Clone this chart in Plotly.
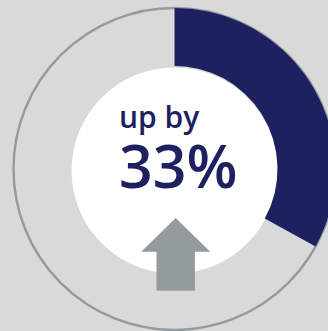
import numpy as np
import plotly.graph_objects as go

# ---- data ----
labels = ["up by", "33%"]
percent_change = [33]          # share of the ring filled
ring_radii = [103, 161]       # inner / outer radius of the ring (px units)

NAVY = "#1e2160"
GREY = "#949b9e"
BG = "#d9d9d9"

pct = percent_change[0] / 100.0
r_in, r_out = ring_radii

# wedge built from the value (clockwise from 12 o'clock)
t = np.linspace(0, 2 * np.pi * pct, 200)
wx = np.concatenate([r_out * np.sin(t), r_in * np.sin(t[::-1])])
wy = np.concatenate([r_out * np.cos(t), r_in * np.cos(t[::-1])])

fig = go.Figure()
fig.add_trace(go.Scatter(x=wx, y=wy, mode="lines", fill="toself",
                         fillcolor=NAVY, line=dict(width=0, color=NAVY),
                         hoverinfo="skip"))

# arrow icon
ac, tip, hb, bot, hw, sw = 1.2, -49, -82.7, -121.7, 34.5, 19.2
ax = [ac, ac + hw, ac + sw, ac + sw, ac - sw, ac - sw, ac - hw, ac]
ay = [tip, hb, hb, bot, bot, hb, hb, tip]
fig.add_trace(go.Scatter(x=ax, y=ay, mode="lines", fill="toself",
                         fillcolor=GREY, line=dict(width=0, color=GREY),
                         hoverinfo="skip"))

fig.add_shape(type="circle", x0=-r_out, x1=r_out, y0=-r_out, y1=r_out,
              line=dict(color=GREY, width=2.4), layer="below")
fig.add_shape(type="circle", x0=-r_in, x1=r_in, y0=-r_in - 1.5, y1=r_in - 1.5,
              fillcolor="white", line=dict(width=0), layer="below")

text = ("<span style='font-size:30px'>%s</span><br>"
        "<span style='font-size:59px'>%s</span>" % (labels[0], labels[1]))
fig.add_annotation(x=-58, y=19, text=text, showarrow=False,
                   xanchor="left", yanchor="middle", align="left",
                   font=dict(family="Open Sans", size=46, color=NAVY, weight=600))

fig.update_layout(width=328, height=331, margin=dict(l=0, r=0, t=0, b=0),
                  paper_bgcolor=BG, plot_bgcolor=BG, showlegend=False,
                  xaxis=dict(range=[-174.5, 153.5], visible=False, fixedrange=True),
                  yaxis=dict(range=[-162, 169], visible=False, fixedrange=True))

fig.write_html("out.html", config={"displayModeBar": False})
